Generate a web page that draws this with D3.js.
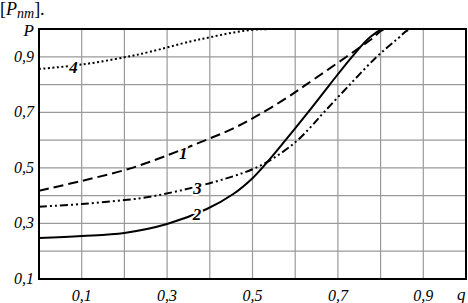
<!DOCTYPE html>
<html><head><meta charset="utf-8">
<script src="https://cdn.jsdelivr.net/npm/d3@7/dist/d3.min.js"></script>
<style>body{margin:0;background:#fff}svg{display:block}</style>
</head><body>
<script>
const xTicks = [0.1,0.3,0.5,0.7,0.9];
const yTicks = [0.1,0.3,0.5,0.7,0.9];
const xTickLabels = ["0,1","0,3","0,5","0,7","0,9"];
const yTickLabels = ["0,1","0,3","0,5","0,7","0,9"];
const curve1Q = [0,0.1,0.2,0.26,0.4,0.455,0.51,0.58,0.623,0.72,0.78,0.81,1.0];
const curve1P = [0.418,0.453,0.492,0.522,0.606,0.642,0.687,0.752,0.797,0.9,0.965,1.0,1.0];
const curve2Q = [0,0.1,0.2,0.3,0.393,0.455,0.5,0.533,0.572,0.63,0.681,0.733,0.775,0.806,1.0];
const curve2P = [0.248,0.255,0.266,0.298,0.352,0.406,0.463,0.518,0.59,0.7,0.8,0.9,0.97,1.0,1.0];
const curve3Q = [0,0.1,0.2,0.26,0.4,0.5,0.549,0.6,0.635,0.666,0.728,0.791,0.84,0.87,1.0];
const curve3P = [0.36,0.37,0.384,0.396,0.445,0.495,0.535,0.592,0.645,0.698,0.8,0.9,0.965,1.0,1.0];
const curve4Q = [0,0.1,0.2,0.26,0.354,0.4,0.45,0.5,0.55,1.0];
const curve4P = [0.856,0.872,0.898,0.918,0.955,0.97,0.986,0.997,1.0,1.0];
const curveNames = ["1","2","3","4"];
const labelQ = [0.338,0.37,0.371,0.081];
const labelP = [0.555,0.334,0.428,0.862];

const W=468,H=303;
const svg=d3.select("body").append("svg").attr("width",W).attr("height",H);
const x=d3.scaleLinear().domain([0,1]).range([39,466]);
const y=d3.scaleLinear().domain([0.1,1.0]).range([279,29]);
const serif="'Liberation Serif','Times New Roman',serif";

svg.append("clipPath").attr("id","clip").append("rect")
 .attr("x",x(0)).attr("y",y(1)).attr("width",x(1)-x(0)).attr("height",y(0.1)-y(1));

// grid
const g=svg.append("g");
g.selectAll("line.vx").data(d3.range(1,10).map(i=>i/10)).join("line")
 .attr("x1",d=>x(d)).attr("x2",d=>x(d)).attr("y1",y(0.1)).attr("y2",y(1))
 .attr("stroke","#9a9a9a").attr("stroke-width",1.2);
g.selectAll("line.hy").data(d3.range(2,10).map(i=>i/10)).join("line")
 .attr("y1",d=>y(d)).attr("y2",d=>y(d)).attr("x1",x(0)).attr("x2",x(1))
 .attr("stroke","#9a9a9a").attr("stroke-width",1.2);

// curves
const line=d3.line().x(d=>x(d[0])).y(d=>y(d[1])).curve(d3.curveCatmullRom.alpha(0.5));
const curves=[
 {q:curve1Q,p:curve1P,dash:"10,5"},
 {q:curve2Q,p:curve2P,dash:null},
 {q:curve3Q,p:curve3P,dash:"8,3,2,3,2,3"},
 {q:curve4Q,p:curve4P,dash:"2,2.5"}
];
const cg=svg.append("g").attr("clip-path","url(#clip)");
curves.forEach(c=>{
 const pts=c.q.map((v,i)=>[v,c.p[i]]);
 cg.append("path").attr("d",line(pts)).attr("fill","none").attr("stroke","#000")
  .attr("stroke-width",2).attr("stroke-dasharray",c.dash);
});
// frame
svg.append("rect").attr("x",x(0)).attr("y",y(1)).attr("width",x(1)-x(0)).attr("height",y(0.1)-y(1))
 .attr("fill","none").attr("stroke","#000").attr("stroke-width",2);
// curve labels
curveNames.forEach((n,i)=>{
 svg.append("text").attr("x",x(labelQ[i])).attr("y",y(labelP[i])).attr("dy","0.35em")
  .attr("text-anchor","middle").attr("font-family",serif).attr("font-style","italic")
  .attr("font-weight","bold").attr("font-size",17)
  .attr("stroke","#fff").attr("stroke-width",4).attr("paint-order","stroke")
  .attr("fill","#000").text(n);
});

// tick labels
svg.selectAll("text.yt").data(yTicks).join("text").attr("x",34).attr("y",d=>y(d)+5)
 .attr("text-anchor","end").attr("font-family",serif).attr("font-style","italic").attr("font-size",16)
 .text((d,i)=>yTickLabels[i]);
svg.selectAll("text.xt").data(xTicks).join("text").attr("x",d=>x(d)).attr("y",301)
 .attr("text-anchor","middle").attr("font-family",serif).attr("font-style","italic").attr("font-size",16)
 .text((d,i)=>xTickLabels[i]);
svg.append("text").attr("x",34).attr("y",y(1)+7).attr("text-anchor","end").attr("font-family",serif)
 .attr("font-style","italic").attr("font-size",17).text("P");
svg.append("text").attr("x",457).attr("y",300).attr("font-family",serif)
 .attr("font-style","italic").attr("font-size",17).text("q");
// top caption
const t=svg.append("text").attr("x",0).attr("y",15).attr("font-family",serif).attr("font-size",18);
t.append("tspan").text("[");
t.append("tspan").attr("font-style","italic").text("P");
t.append("tspan").attr("font-style","italic").attr("font-size",14).attr("dy",3).text("nm");
t.append("tspan").attr("dy",-3).text("].");
</script>
</body></html>
